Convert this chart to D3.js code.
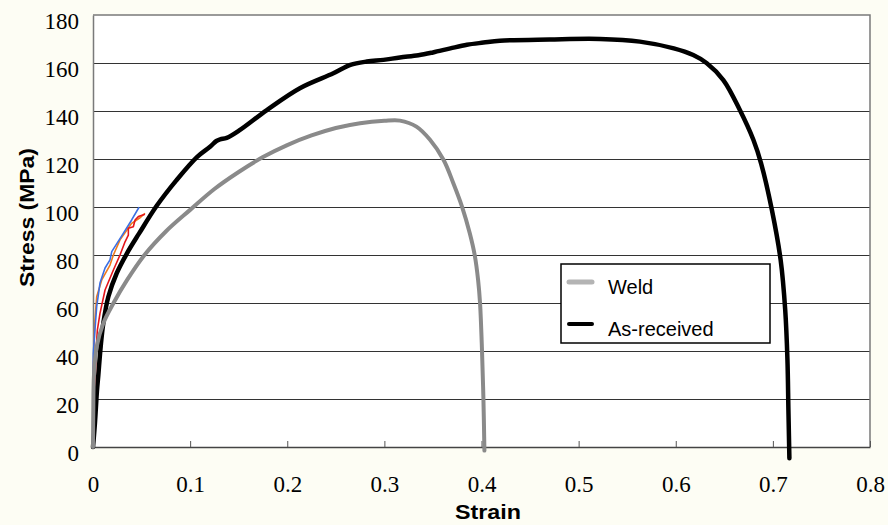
<!DOCTYPE html>
<html>
<head>
<meta charset="utf-8">
<script src="https://cdn.jsdelivr.net/npm/d3@7"></script>
<style>
  html, body { margin: 0; padding: 0; background: #fdfdf4; }
  svg { display: block; }
</style>
</head>
<body>
<svg id="chart" width="888" height="525"></svg>
<script>
// Tensile test curves: engineering stress (MPa) against strain
const xTicks = [0, 0.1, 0.2, 0.3, 0.4, 0.5, 0.6, 0.7, 0.8];
const yTicks = [0, 20, 40, 60, 80, 100, 120, 140, 160, 180];
const seriesNames = ["Weld", "As-received"];

// Weld specimen [strain, stress]
const weldCurve = [
  [0, 0], [0.0003, 15], [0.001, 30], [0.0038, 41.8], [0.0106, 51.5], [0.021, 59.9],
  [0.035, 69.5], [0.053, 80], [0.075, 89.8], [0.1, 98.8], [0.125, 107.5],
  [0.15, 114.6], [0.175, 120.8], [0.2, 125.8], [0.225, 129.8], [0.25, 132.9],
  [0.275, 134.9], [0.3, 135.9], [0.316, 136], [0.333, 133.5], [0.347, 128],
  [0.361, 119.6], [0.371, 109.9], [0.380, 100.1], [0.388, 89], [0.393, 80],
  [0.3965, 69.6], [0.3985, 59.9], [0.4005, 40.4], [0.402, 19.6], [0.403, -1.5]
];

// As-received specimen [strain, stress]
const asReceivedCurve = [
  [0, 0], [0.002, 10], [0.004, 23], [0.0055, 30], [0.0079, 41.8], [0.0106, 51.5],
  [0.0158, 62.6], [0.0244, 72.4], [0.0347, 80.5], [0.0475, 89], [0.0656, 100.5],
  [0.086, 111.2], [0.107, 120.8], [0.1205, 125.1], [0.127, 127.5], [0.131, 128.2],
  [0.1377, 128.8], [0.151, 132], [0.179, 140.4], [0.213, 149.5], [0.2475, 155.7],
  [0.265, 159.2], [0.282, 160.6], [0.299, 161.3], [0.316, 162.3], [0.335, 163.2],
  [0.350, 164.4], [0.368, 166.1], [0.385, 167.6], [0.402, 168.5], [0.419, 169.3],
  [0.47, 169.8], [0.522, 170], [0.563, 168.9], [0.598, 166.1], [0.618, 163.3],
  [0.632, 159.9], [0.649, 152.9], [0.666, 140.4], [0.680, 127.9], [0.688, 118],
  [0.699, 98.75], [0.708, 77.9], [0.7127, 57.1], [0.715, 36.25], [0.716, 15.4],
  [0.717, -4.7]
];

// Short early-strain traces
const blueTrace = [
  [0, 0], [0.0003, 39], [0.002, 48.8], [0.0038, 58.5], [0.0072, 68.3], [0.0124, 74.6],
  [0.0175, 78], [0.0193, 81.4], [0.0312, 89], [0.0398, 94.6], [0.0474, 99.9]
];
const orangeTrace = [
  [0, 0], [0.0003, 33.5], [0.002, 53], [0.0038, 62.6], [0.009, 69.6], [0.0175, 75.8],
  [0.021, 80], [0.0278, 86.3], [0.0398, 93.2], [0.048, 95.4], [0.0535, 97.4]
];
const redTrace = [
  [0, 0], [0.0038, 44.6], [0.0045, 48.75], [0.0072, 55.7], [0.0124, 65.4], [0.021, 73.75],
  [0.0278, 80], [0.033, 85.5], [0.0364, 88.3], [0.0364, 91.1], [0.0415, 91.8],
  [0.0433, 94.6], [0.0467, 96], [0.0535, 97]
];

const svg = d3.select("#chart");
const plotLeft = 93, plotRight = 870, plotTop = 15, plotBottom = 447;

const x = d3.scaleLinear().domain([0, 0.8]).range([plotLeft, plotRight]);
const y = d3.scaleLinear().domain([0, 180]).range([plotBottom, plotTop]);

// plot area
svg.append("rect")
  .attr("x", plotLeft).attr("y", plotTop)
  .attr("width", plotRight - plotLeft).attr("height", plotBottom - plotTop)
  .attr("fill", "#ffffff");

// horizontal gridlines
svg.append("g")
  .selectAll("line")
  .data(yTicks.filter(v => v > 0 && v < 180))
  .join("line")
  .attr("x1", plotLeft).attr("x2", plotRight)
  .attr("y1", d => y(d)).attr("y2", d => y(d))
  .attr("stroke", "#333")
  .attr("stroke-width", 1)
  .attr("shape-rendering", "crispEdges");

// top and right border
svg.append("path")
  .attr("d", `M${plotLeft},${plotTop}H${plotRight}V${plotBottom}`)
  .attr("fill", "none")
  .attr("stroke", "#7a7a7a")
  .attr("stroke-width", 1.5);

// x axis
const xAxis = svg.append("g")
  .attr("transform", `translate(0,${plotBottom})`)
  .call(d3.axisBottom(x).tickValues(xTicks).tickSize(-6).tickSizeOuter(0)
    .tickFormat(d => d === 0 ? "0" : d3.format(".1f")(d)));
xAxis.select(".domain").attr("stroke", "#444").attr("stroke-width", 1.5);
xAxis.selectAll(".tick line").attr("stroke", "#555");
xAxis.selectAll(".tick text")
  .attr("y", 45).attr("dy", 0)
  .attr("font-family", "'Liberation Serif', 'Times New Roman', serif")
  .attr("font-size", 23)
  .attr("fill", "#000");

// y axis
const yAxis = svg.append("g")
  .attr("transform", `translate(${plotLeft},0)`)
  .call(d3.axisLeft(y).tickValues(yTicks).tickSize(0).tickPadding(14));
yAxis.select(".domain").attr("stroke", "#7a7a7a").attr("stroke-width", 1.5);
yAxis.selectAll(".tick text")
  .attr("dy", 13)
  .attr("font-family", "'Liberation Serif', 'Times New Roman', serif")
  .attr("font-size", 23)
  .attr("fill", "#000");

// axis titles
svg.append("text")
  .attr("transform", "translate(34,217.5) rotate(-90)")
  .attr("text-anchor", "middle")
  .attr("font-family", "'Liberation Sans', Arial, sans-serif")
  .attr("font-weight", "bold")
  .attr("font-size", 19.5)
  .attr("textLength", 139)
  .attr("lengthAdjust", "spacingAndGlyphs")
  .text("Stress (MPa)");

svg.append("text")
  .attr("x", 488).attr("y", 519)
  .attr("text-anchor", "middle")
  .attr("font-family", "'Liberation Sans', Arial, sans-serif")
  .attr("font-weight", "bold")
  .attr("font-size", 19.5)
  .attr("textLength", 66)
  .attr("lengthAdjust", "spacingAndGlyphs")
  .text("Strain");

// curves
const smooth = d3.line().x(d => x(d[0])).y(d => y(d[1])).curve(d3.curveCatmullRom.alpha(0.5));
const straight = d3.line().x(d => x(d[0])).y(d => y(d[1]));

const traces = [
  { data: orangeTrace, color: "#f07a1c" },
  { data: blueTrace, color: "#3b6fe3" },
  { data: redTrace, color: "#e4141a" }
];
svg.append("g").selectAll("path")
  .data(traces)
  .join("path")
  .attr("d", d => straight(d.data))
  .attr("fill", "none")
  .attr("stroke", d => d.color)
  .attr("stroke-width", 1.6)
  .attr("stroke-linejoin", "round");

svg.append("path")
  .attr("d", smooth(asReceivedCurve))
  .attr("fill", "none")
  .attr("stroke", "#000")
  .attr("stroke-width", 4.5)
  .attr("stroke-linecap", "round")
  .attr("stroke-linejoin", "round");

svg.append("path")
  .attr("d", smooth(weldCurve))
  .attr("fill", "none")
  .attr("stroke", "#8a8a8a")
  .attr("stroke-width", 4)
  .attr("stroke-linecap", "round")
  .attr("stroke-linejoin", "round");

// legend
const legend = svg.append("g");
legend.append("rect")
  .attr("x", 561).attr("y", 264)
  .attr("width", 209).attr("height", 79)
  .attr("fill", "#fff")
  .attr("stroke", "#000")
  .attr("stroke-width", 1.5);

const legendItems = [
  { name: seriesNames[0], color: "#b4b4b4", width: 5, yy: 282 },
  { name: seriesNames[1], color: "#000", width: 4, yy: 324 }
];
legend.selectAll("line")
  .data(legendItems)
  .join("line")
  .attr("x1", 569).attr("x2", 592)
  .attr("y1", d => d.yy).attr("y2", d => d.yy)
  .attr("stroke", d => d.color)
  .attr("stroke-width", d => d.width)
  .attr("stroke-linecap", "round");
legend.selectAll("text")
  .data(legendItems)
  .join("text")
  .attr("x", 608)
  .attr("y", d => d.yy + 12)
  .attr("font-family", "'Liberation Sans', Arial, sans-serif")
  .attr("font-size", 20)
  .attr("fill", "#000")
  .text(d => d.name);
</script>
</body>
</html>
